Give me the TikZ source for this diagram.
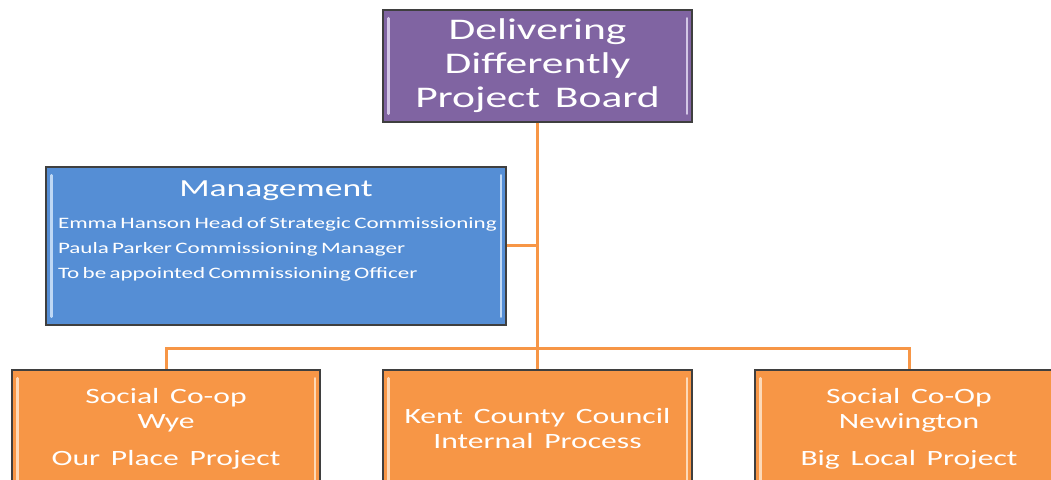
\documentclass[tikz,border=0pt]{standalone}
\usepackage{fontspec}
\setmainfont[FakeStretch=1.45,WordSpace=1.5]{Carlito}
\usepackage{tikz}
\usetikzlibrary{positioning,calc}

\definecolor{boardfill}{HTML}{8064A2}
\definecolor{boardbar}{HTML}{D3C7E6}
\definecolor{mgmtfill}{HTML}{558ED5}
\definecolor{mgmtbar}{HTML}{BFD8F5}
\definecolor{unitfill}{HTML}{F79646}
\definecolor{unitbar}{HTML}{FDD9B8}
\definecolor{edge}{HTML}{3F3F3F}

\begin{document}
\begin{tikzpicture}[x=1pt,y=1pt,
    card/.style={rectangle, draw=edge, line width=1.5pt, text=white, align=center, inner sep=4pt},
    link/.style={draw=unitfill, line width=3pt},
    rim/.style={line width=2.5pt, line cap=round}]

    \clip (0,0) rectangle (1051,479);

    % Boxes
    \node[card, fill=boardfill, minimum width=309pt, minimum height=112pt,
      font=\fontsize{30}{34}\selectfont] (board) at (537.5,413) {Delivering\\Differently\\Project Board};
    \node[card, fill=mgmtfill, minimum width=460pt, minimum height=158pt, inner xsep=8pt,
      text width=444pt, align=left] (mgmt) at (276,233)
      {\centering\fontsize{24.5}{30}\selectfont Management\par\vspace{7pt}
       \raggedright\fontsize{15.9}{25}\selectfont
       \hspace*{4pt}\mbox{Emma Hanson Head of Strategic Commissioning}\\
       \hspace*{4pt}\mbox{Paula Parker Commissioning Manager}\\
       \hspace*{4pt}\mbox{To be appointed Commissioning Officer}\par\vspace*{30pt}};
    \node[card, fill=unitfill, minimum width=308pt, minimum height=118pt,
      font=\fontsize{21.8}{25}\selectfont] (wye) at (166,50) {Social Co-op\\Wye\\[12pt]Our Place Project};
    \node[card, fill=unitfill, minimum width=309pt, minimum height=118pt,
      font=\fontsize{21.8}{25}\selectfont] (kcc) at (537.5,50) {Kent County Council\\Internal Process};
    \node[card, fill=unitfill, minimum width=308pt, minimum height=118pt,
      font=\fontsize{21.8}{25}\selectfont] (newington) at (909,50) {Social Co-Op\\Newington\\[12pt]Big Local Project};

    % Inner highlights
    \foreach \n/\c in {board/boardbar, mgmt/mgmtbar, wye/unitbar, kcc/unitbar, newington/unitbar} {
      \draw[rim, \c] ([shift={(6,-9)}]\n.north west) -- ([shift={(6,9)}]\n.south west);
      \draw[rim, \c] ([shift={(-6,-9)}]\n.north east) -- ([shift={(-6,9)}]\n.south east);
    }

    % Connectors
    \coordinate (bus) at (537.5,130);
    \draw[link] (board.south) -- (kcc.north);
    \draw[link] (mgmt.east) -- (mgmt.east -| board.south);
    \draw[link] (wye.north) |- (bus) -| (newington.north);

  \end{tikzpicture}
\end{document}
